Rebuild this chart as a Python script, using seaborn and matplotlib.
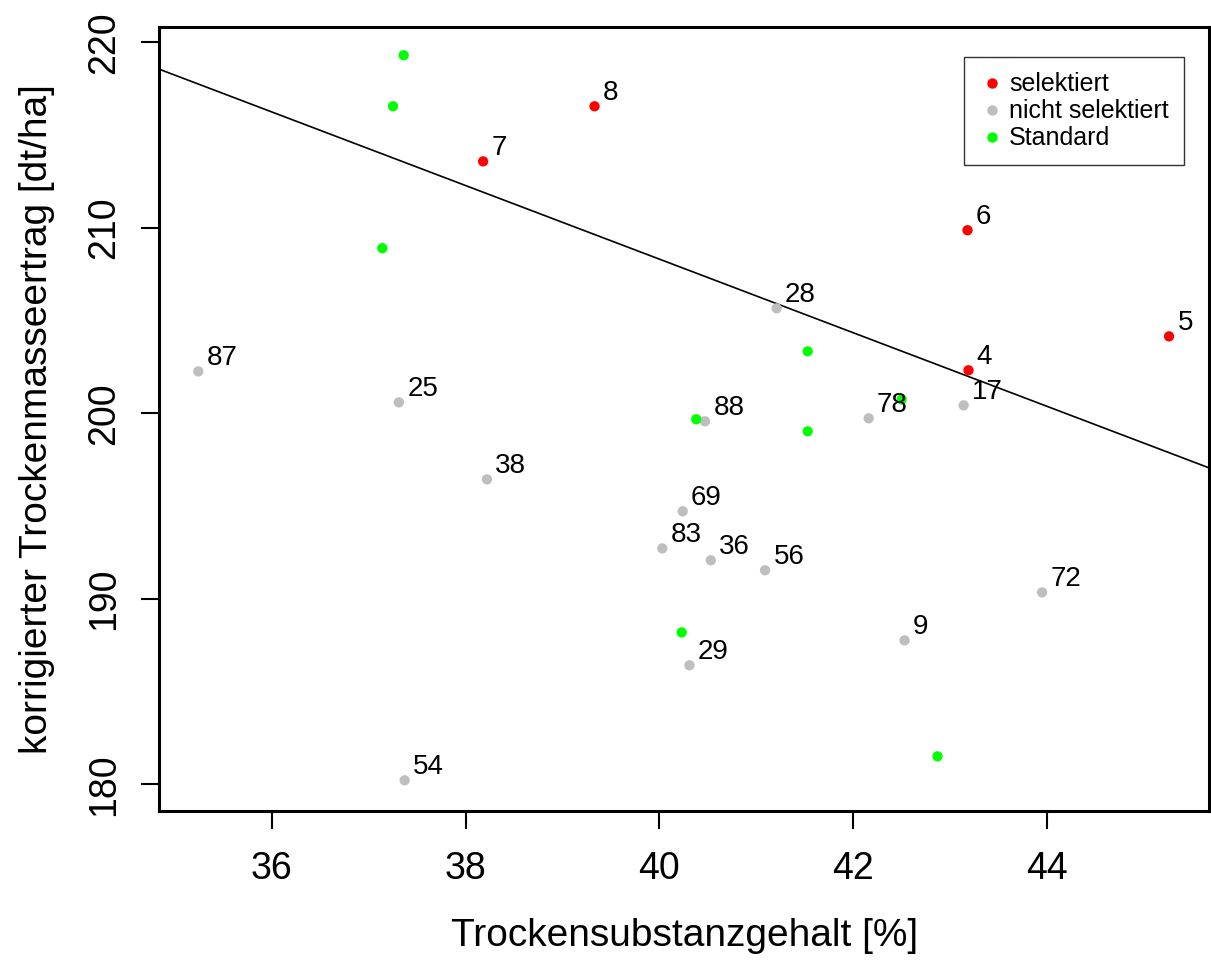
import pandas as pd
import matplotlib
matplotlib.use('Agg')
import matplotlib.pyplot as plt
import seaborn as sns
from matplotlib.lines import Line2D

# values
sel_x = [39.33, 38.18, 43.18, 45.26, 43.19]
sel_y = [216.55, 213.58, 209.87, 204.15, 202.32]
sel_lab = ['8', '7', '6', '5', '4']

not_x = [35.24, 37.31, 38.22, 41.21, 40.47, 42.16, 43.14, 40.24, 40.03, 40.53, 41.09, 43.95, 42.53, 40.31, 37.37]
not_y = [202.26, 200.59, 196.44, 205.66, 199.57, 199.73, 200.43, 194.72, 192.72, 192.08, 191.54, 190.35, 187.76, 186.42, 180.22]
not_lab = ['87', '25', '38', '28', '88', '78', '17', '69', '83', '36', '56', '72', '9', '29', '54']

std_x = [37.36, 37.25, 37.14, 41.53, 41.53, 40.38, 42.50, 40.23, 42.87]
std_y = [219.30, 216.55, 208.90, 203.34, 199.03, 199.68, 200.75, 188.19, 181.51]

# regression line (intercept, slope)
line_a = 287.63
line_b = -1.983

groups = ['selektiert', 'nicht selektiert', 'Standard']
colors = {'selektiert': '#FF0000', 'nicht selektiert': '#BEBEBE', 'Standard': '#00FF00'}

df = pd.DataFrame({
    'x': sel_x + not_x + std_x,
    'y': sel_y + not_y + std_y,
    'grp': ['selektiert'] * len(sel_x) + ['nicht selektiert'] * len(not_x) + ['Standard'] * len(std_x),
})

sns.set_style('ticks')
plt.rcParams['font.family'] = ['Liberation Sans', 'DejaVu Sans']
plt.rcParams['text.color'] = 'black'
plt.rcParams['axes.labelcolor'] = 'black'
plt.rcParams['xtick.color'] = 'black'
plt.rcParams['ytick.color'] = 'black'

fig = plt.figure(figsize=(12.11, 9.6), dpi=100)
ax = fig.add_axes([0.1315, 0.1555, 0.8668, 0.8167])

xlim = (34.837, 45.672)
ylim = (178.58, 220.84)

sns.scatterplot(data=df, x='x', y='y', hue='grp', hue_order=groups, palette=colors,
                s=55, linewidth=0, legend=False, ax=ax, zorder=3)

ax.plot(list(xlim), [line_a + line_b * xlim[0], line_a + line_b * xlim[1]],
        color='black', lw=1.2, zorder=2)

for x, y, t in zip(sel_x + not_x, sel_y + not_y, sel_lab + not_lab):
    ax.annotate(t, (x, y), xytext=(6.0, 4.3), textcoords='offset points',
                ha='left', va='baseline', fontsize=20, color='black', zorder=4)

ax.set_xlim(xlim)
ax.set_ylim(ylim)
ax.set_xticks([36, 38, 40, 42, 44])
ax.set_yticks([180, 190, 200, 210, 220])
ax.tick_params(axis='both', direction='out', length=13, width=1.5, labelsize=27,
               color='black', labelcolor='black')
ax.tick_params(axis='x', pad=16)
ax.tick_params(axis='y', pad=14)
plt.setp(ax.get_yticklabels(), rotation=90, va='center')
for sp in ax.spines.values():
    sp.set_visible(True)
    sp.set_linewidth(2.2)
    sp.set_color('black')

ax.set_xlabel('Trockensubstanzgehalt [%]', fontsize=28, labelpad=22, color='black')
ax.set_ylabel('korrigierter Trockenmasseertrag [dt/ha]', fontsize=28, labelpad=22, color='black')

handles = [Line2D([], [], marker='o', ls='', color=colors[g], markersize=7.5, markeredgewidth=0)
           for g in groups]
leg = ax.legend(handles, groups, loc='upper right', bbox_to_anchor=(0.976, 0.961),
                fontsize=18, frameon=True, fancybox=False, handletextpad=0.2,
                handlelength=1.0, labelspacing=0.12, borderpad=0.6, borderaxespad=0)
leg.get_frame().set_edgecolor('black')
leg.get_frame().set_linewidth(1.0)
for t in leg.get_texts():
    t.set_color('black')

fig.savefig('out.png', dpi=100)
